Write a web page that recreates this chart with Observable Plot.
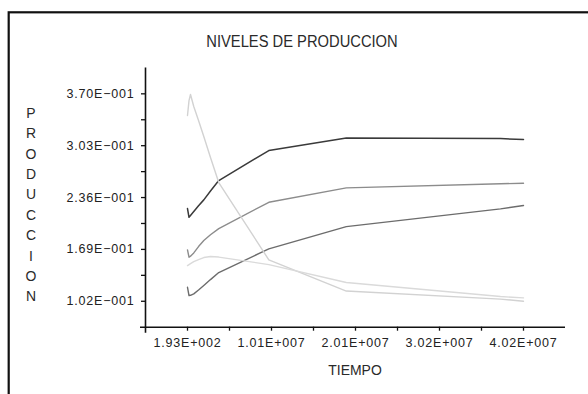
<!DOCTYPE html>
<html>
<head>
<meta charset="utf-8">
<script src="https://cdn.jsdelivr.net/npm/d3@7"></script>
<script src="https://cdn.jsdelivr.net/npm/@observablehq/plot@0.6"></script>
<style>
  html, body { margin: 0; padding: 0; background: #fff; }
  body { width: 588px; height: 394px; overflow: hidden; position: relative; font-family: "Liberation Sans", Arial, sans-serif; color: #222; }
  #title { position: absolute; left: 302px; top: 33px; font-size: 16px; white-space: nowrap; transform: translateX(-50%) scaleX(0.92); color: #2a2a2a; }
  #xlabel { position: absolute; left: 355px; top: 361px; font-size: 15.5px; white-space: nowrap; transform: translateX(-50%) scaleX(0.9); color: #2a2a2a; }
  #ylabel { position: absolute; left: 21px; top: 102.8px; width: 20px; text-align: center; font-size: 15.5px; line-height: 20.4px; color: #2a2a2a; }
  #ylabel span { display: block; transform: scaleX(0.9); }
  #chart { position: absolute; left: 0; top: 0; }
</style>
</head>
<body>
<div id="chart"></div>
<div id="title">NIVELES DE PRODUCCION</div>
<div id="xlabel">TIEMPO</div>
<div id="ylabel"></div>
<script>
// ---- data ----
const titulo = "NIVELES DE PRODUCCION";
const ejeX = "TIEMPO";
const ejeY = "PRODUCCION";

const tiempo = [193, 1.8e5, 3.6e5, 7.5e5, 1.32e6, 1.95e6, 2.75e6, 3.74e6, 9.73e6, 1.9e7, 3.745e7, 4.02e7];

const serieA = [0.2218, 0.2105, 0.2128, 0.2180, 0.2255, 0.2330, 0.2445, 0.2580, 0.2967, 0.3129, 0.3122, 0.3109];
const serieB = [0.1684, 0.1589, 0.1603, 0.1645, 0.1727, 0.1804, 0.1880, 0.1959, 0.2299, 0.2485, 0.2538, 0.2545];
const serieC = [0.1201, 0.1094, 0.1097, 0.1115, 0.1165, 0.1223, 0.1300, 0.1391, 0.1697, 0.1985, 0.2214, 0.2257];
const serieD = [0.3420, 0.3613, 0.3691, 0.3536, 0.3355, 0.3148, 0.2877, 0.2554, 0.1555, 0.1152, 0.1048, 0.1020];
const serieE = [0.1481, 0.1494, 0.1507, 0.1533, 0.1559, 0.1585, 0.1598, 0.1591, 0.1494, 0.1262, 0.1081, 0.1064];

const nombresSeries = ["A", "B", "C", "D", "E"];
const coloresSeries = ["#3a3a3a", "#8c8c8c", "#6c6c6c", "#d2d2d2", "#dadada"];
const grosorSeries = [1.5, 1.4, 1.4, 1.4, 1.4];

const xTicks = [193, 5025169, 10050145, 15075121, 20100097, 25125072, 30150048, 35175024, 40200000];
const xTickLabels = ["1.93E+002", "", "1.01E+007", "", "2.01E+007", "", "3.02E+007", "", "4.02E+007"];
const yTicks = [0.102, 0.1355, 0.169, 0.2025, 0.236, 0.2695, 0.303, 0.3365, 0.370];
const yTickLabels = ["1.02E\u2212001", "", "1.69E\u2212001", "", "2.36E\u2212001", "", "3.03E\u2212001", "", "3.70E\u2212001"];

const xDomain = [-5024783, 45225169];
const yDomain = [0.0685, 0.4035];

// ---- build table ----
const valores = [serieA, serieB, serieC, serieD, serieE];
const tabla = [];
valores.forEach((vals, i) => vals.forEach((v, j) => tabla.push({serie: nombresSeries[i], t: tiempo[j], v})));

document.getElementById("title").textContent = titulo;
document.getElementById("xlabel").textContent = ejeX;
document.getElementById("ylabel").innerHTML = [...ejeY].map(c => `<span>${c}</span>`).join("");

const lineMarks = nombresSeries.map((s, i) =>
  Plot.line(tabla.filter(d => d.serie === s), {x: "t", y: "v", stroke: coloresSeries[i], strokeWidth: grosorSeries[i], curve: "linear"})
);

const chart = Plot.plot({
  width: 588,
  height: 394,
  marginLeft: 145,
  marginRight: 23,
  marginTop: 67.4,
  marginBottom: 67.3,
  x: {type: "linear", domain: xDomain, label: null},
  y: {type: "linear", domain: yDomain, label: null},
  style: {fontFamily: "'Liberation Sans', Arial, sans-serif", fontSize: "12.5px", letterSpacing: "0.8px", color: "#222", background: "transparent", overflow: "visible"},
  marks: [
    // outer window border (only top and left edges fall inside the picture)
    Plot.frame({stroke: "#111", strokeWidth: 2.2, insetTop: -55.6, insetLeft: -136.8, insetRight: -40, insetBottom: -90}),
    Plot.axisY(yTicks, {anchor: "left", tickSize: 4, tickPadding: 7, strokeWidth: 1.3, label: null, tickFormat: (d, i) => yTickLabels[i], stroke: "#111"}),
    Plot.axisX(xTicks, {anchor: "bottom", tickSize: 4, tickPadding: 6.5, strokeWidth: 1.3, label: null, tickFormat: (d, i) => xTickLabels[i], stroke: "#111"}),
    ...lineMarks,
    Plot.ruleY([yDomain[0]], {stroke: "#111", strokeWidth: 1.6, insetLeft: -5}),
    Plot.ruleX([xDomain[0]], {stroke: "#111", strokeWidth: 1.6, insetBottom: -6})
  ]
});
document.getElementById("chart").appendChild(chart);
</script>
</body>
</html>
